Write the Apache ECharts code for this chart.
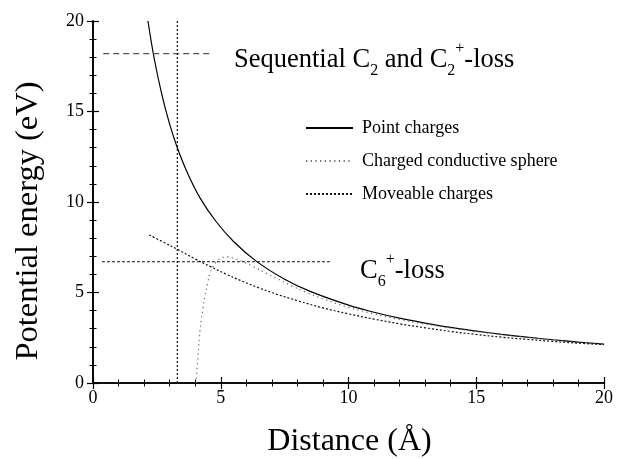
<!DOCTYPE html>
<html>
<head>
<meta charset="utf-8">
<script src="https://cdn.jsdelivr.net/npm/echarts@6/dist/echarts.min.js"></script>
<style>
html, body { margin: 0; padding: 0; background: #fff; }
#chart { width: 618px; height: 459px; }
</style>
</head>
<body>
<div id="chart"></div>
<script>
// values
var pointDist   = [2.15, 2.4, 2.7, 3.0, 3.3, 3.7, 4.2, 4.8, 5.5, 6.4, 7.5, 8.5, 10, 11, 12, 13, 14, 15, 16, 17, 18, 19, 20];
var pointEnergy = [20.0, 17.9, 15.9, 14.3, 13.0, 11.6, 10.2, 8.95, 7.82, 6.72, 5.73, 5.06, 4.3, 3.91, 3.58, 3.31, 3.07, 2.87, 2.69, 2.53, 2.39, 2.26, 2.15];

var sphereDist   = [4.03, 4.1, 4.19, 4.3, 4.38, 4.5, 4.58, 4.7, 4.84, 5.03, 5.25, 5.49, 5.9, 6.28, 6.8, 7.19, 7.8, 8.36, 9, 10, 11, 12, 13, 14, 15, 16, 17, 18, 19, 20];
var sphereEnergy = [0, 1.3, 2.93, 4.1, 4.77, 5.6, 6.07, 6.45, 6.7, 6.92, 6.97, 6.9, 6.68, 6.43, 6.05, 5.78, 5.35, 5.0, 4.65, 4.18, 3.82, 3.51, 3.26, 3.04, 2.84, 2.67, 2.52, 2.38, 2.26, 2.14];

var moveDist   = [2.2, 2.8, 3.3, 4.0, 4.6, 5.2, 5.8, 6.5, 7.2, 8.0, 9.0, 10, 11, 12, 13, 14, 15, 16, 17, 18, 19, 20];
var moveEnergy = [8.18, 7.75, 7.39, 6.85, 6.43, 6.02, 5.65, 5.25, 4.9, 4.55, 4.15, 3.82, 3.53, 3.27, 3.05, 2.85, 2.68, 2.53, 2.41, 2.3, 2.2, 2.12];

// threshold guide lines
var seqLossLine = [[0.4, 18.2], [4.7, 18.2]];
var c6LossLine  = [[0.35, 6.7], [9.35, 6.7]];
var distMarker  = [[3.3, 0], [3.3, 20]];

var xTicks = [0, 5, 10, 15, 20];
var yTicks = [0, 5, 10, 15, 20];

var serif = 'Liberation Serif, Times New Roman, serif';

function zip(xs, ys) {
    return xs.map(function (x, i) { return [x, ys[i]]; });
}

var chart = echarts.init(document.getElementById('chart'));

var axisLine = { show: true, lineStyle: { color: '#000', width: 1.6 } };
var tick = { show: true, inside: true, length: 6, lineStyle: { color: '#000', width: 1.2 } };
var minor = { show: true, splitNumber: 5, length: 3.5, lineStyle: { color: '#000', width: 1 } };
var subSup = {
    sub: { fontFamily: serif, fontSize: 16, lineHeight: 16, verticalAlign: 'bottom' },
    sup: { fontFamily: serif, fontSize: 16, lineHeight: 16, verticalAlign: 'top' }
};

chart.setOption({
    animation: false,
    grid: { left: 93, right: 14, top: 21, bottom: 76, outerBoundsMode: 'none' },
    legend: {
        data: ['Point charges', 'Charged conductive sphere', 'Moveable charges'],
        orient: 'vertical',
        left: 300,
        top: 114,
        itemWidth: 47,
        itemHeight: 14,
        itemGap: 15,
        itemStyle: { opacity: 0 },
        textStyle: { fontFamily: serif, fontSize: 18, color: '#000', padding: [0, 0, 0, 4] }
    },
    xAxis: [{
        type: 'value', min: xTicks[0], max: xTicks[xTicks.length - 1], interval: 5,
        axisLine: axisLine, axisTick: tick, minorTick: minor,
        axisLabel: { fontFamily: serif, fontSize: 18, color: '#000', margin: 6 },
        splitLine: { show: false }
    }, {
        type: 'value', position: 'top', min: 0, max: 20, interval: 5,
        axisLine: axisLine, axisTick: tick, minorTick: minor,
        axisLabel: { show: false }, splitLine: { show: false }
    }],
    yAxis: [{
        type: 'value', min: yTicks[0], max: yTicks[yTicks.length - 1], interval: 5,
        axisLine: axisLine, axisTick: tick, minorTick: minor,
        axisLabel: { fontFamily: serif, fontSize: 18, color: '#000', margin: 9 },
        splitLine: { show: false }
    }, {
        type: 'value', position: 'right', min: 0, max: 20, interval: 5,
        axisLine: axisLine, axisTick: tick, minorTick: minor,
        axisLabel: { show: false }, splitLine: { show: false }
    }],
    series: [{
        name: 'Point charges', type: 'line', symbol: 'none', smooth: 0.4,
        lineStyle: { color: '#000', width: 1.2 },
        data: zip(pointDist, pointEnergy)
    }, {
        name: 'Charged conductive sphere', type: 'line', symbol: 'none', smooth: 0.4,
        lineStyle: { color: '#666', width: 1.2, type: [1.2, 3.5] },
        data: zip(sphereDist, sphereEnergy)
    }, {
        name: 'Moveable charges', type: 'line', symbol: 'none', smooth: 0.4,
        lineStyle: { color: '#111', width: 1.2, type: [2, 2] },
        data: zip(moveDist, moveEnergy)
    }, {
        type: 'line', symbol: 'none', silent: true,
        lineStyle: { color: '#555', width: 1.2, type: [6, 4] },
        data: seqLossLine
    }, {
        type: 'line', symbol: 'none', silent: true,
        lineStyle: { color: '#111', width: 1.2, type: [3, 2] },
        data: c6LossLine
    }, {
        type: 'line', symbol: 'none', silent: true,
        lineStyle: { color: '#111', width: 1.2, type: [2, 2] },
        data: distMarker
    }],
    graphic: [{
        type: 'text', left: 234, top: 41,
        style: {
            text: 'Sequential C{sub|2} and C{sub|2}{sup|+}-loss',
            fontFamily: serif, fontSize: 26.5, fill: '#000', lineHeight: 38,
            rich: subSup
        }
    }, {
        type: 'text', left: 360, top: 252,
        style: {
            text: 'C{sub|6}{sup|+}-loss',
            fontFamily: serif, fontSize: 26.5, fill: '#000', lineHeight: 38,
            rich: subSup
        }
    }, {
        type: 'text', x: 28, y: 221, rotation: Math.PI / 2,
        style: {
            text: 'Potential energy (eV)', fontFamily: serif, fontSize: 32.5, fill: '#000',
            align: 'center', verticalAlign: 'middle'
        }
    }, {
        type: 'text', x: 349.5, y: 442,
        style: {
            text: 'Distance (Å)', fontFamily: serif, fontSize: 32, fill: '#000',
            align: 'center', verticalAlign: 'middle'
        }
    }]
});

window.onresize = function () { chart.resize(); };
</script>
</body>
</html>
